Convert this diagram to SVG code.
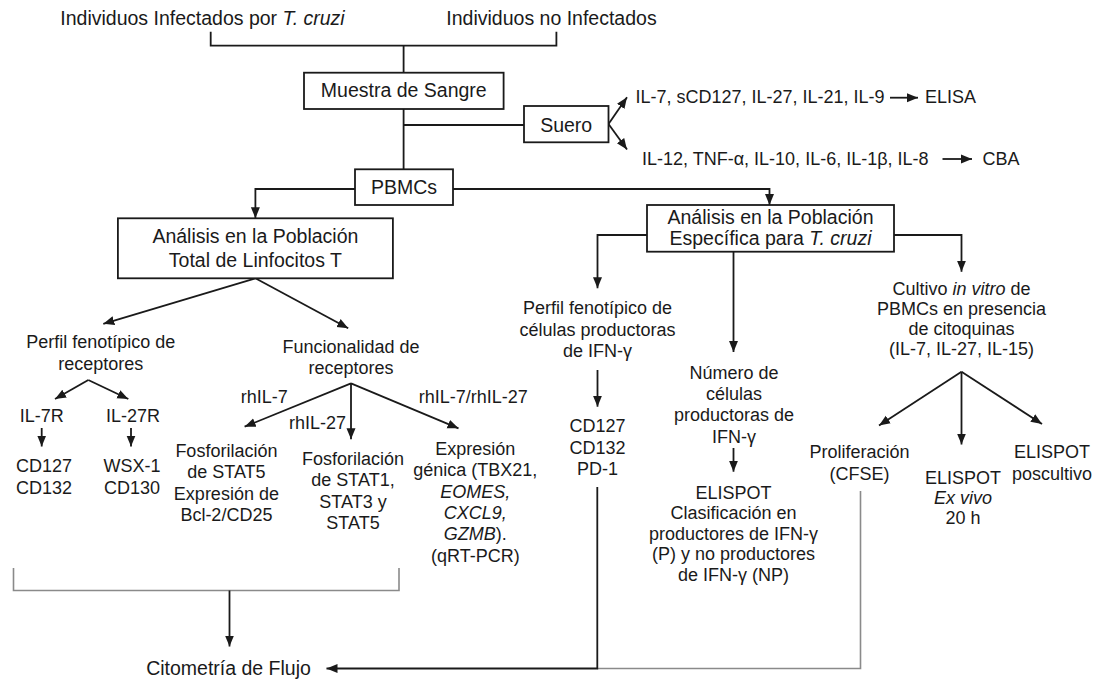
<svg xmlns="http://www.w3.org/2000/svg" width="1106" height="679" viewBox="0 0 1106 679">
<defs>
<style>
text{font-family:"Liberation Sans",Arial,sans-serif;font-size:18px;fill:#1a1a1a;text-anchor:middle}
.lg{font-size:19.5px}
.st{text-anchor:start}
.it{font-style:italic}
.box{fill:#fff;stroke:#1a1a1a;stroke-width:1.8}
.ln{fill:none;stroke:#1a1a1a;stroke-width:1.8}
.gr{fill:none;stroke:#8a8a8a;stroke-width:1.6}
.ar{marker-end:url(#ah)}
</style>
<marker id="ah" markerUnits="userSpaceOnUse" markerWidth="12" markerHeight="12" viewBox="0 0 12 10" refX="11" refY="5" orient="auto">
<path d="M0,0.5 L11,5 L0,9.5 Z" fill="#1a1a1a"/>
</marker>
</defs>
<rect width="1106" height="679" fill="#fff"/>

<g id="connectors">
<path class="ln" d="M210.7,31.7 V45.7 H556.4 V31.7 M403.6,45.7 V72.7"/>
<path class="ln" d="M403.6,109 V169.3 M403.6,125 H524"/>
<path class="ln ar" d="M608.5,124 L627,97.3"/>
<path class="ln ar" d="M608.5,124 L627,149.5"/>
<path class="ln ar" d="M890,97.7 H918"/>
<path class="ln ar" d="M942.5,159 H972"/>
<path class="ln ar" d="M355,189 H255.4 V218.3"/>
<path class="ln ar" d="M453,189 H769.5 V205"/>
<path class="ln ar" d="M255.4,278.3 L103.3,323.8"/>
<path class="ln ar" d="M255.4,278.3 L348.2,328.3"/>
<path class="ln ar" d="M88.3,380 L55,399"/>
<path class="ln ar" d="M88.3,380 L128.3,399"/>
<path class="ln ar" d="M41.7,428 V446.5"/>
<path class="ln ar" d="M131,428 V446.5"/>
<path class="ln ar" d="M351,383.3 L244.6,426.7"/>
<path class="ln ar" d="M351,383.3 V439.3"/>
<path class="ln ar" d="M351,383.3 L458.5,428.3"/>
<path class="ln ar" d="M647,235 H597.5 V288.3"/>
<path class="ln ar" d="M733.5,251.7 V352"/>
<path class="ln ar" d="M894,235 H961.5 V271.7"/>
<path class="ln ar" d="M597.5,370 V406.7"/>
<path class="ln ar" d="M733.5,448 V471.7"/>
<path class="ln ar" d="M961.5,371.7 L879,425.5"/>
<path class="ln ar" d="M961.5,371.7 V444.5"/>
<path class="ln ar" d="M961.5,371.7 L1042,424"/>
<path class="gr" d="M13.5,568 V590.5 H399 V568"/>
<path class="ln ar" d="M229.5,590.5 V646.5"/>
<path class="gr" d="M597.3,668.5 H860.5 V491"/>
<path class="ln ar" d="M597.3,487 V668.5 H326.5"/>
</g>

<g id="top-infected"><text class="lg" x="202.5" y="25">Individuos Infectados por <tspan class="it">T. cruzi</tspan></text></g>
<g id="top-noninfected"><text class="lg" x="551.5" y="25">Individuos no Infectados</text></g>

<g id="muestra"><rect class="box" x="304" y="72.7" width="199.6" height="36.3"/><text class="lg" x="403.8" y="97.3">Muestra de Sangre</text></g>
<g id="suero"><rect class="box" x="524" y="106" width="84.5" height="36.3"/><text class="lg" x="566.2" y="131.7">Suero</text></g>
<g id="elisa"><text class="st" x="635.5" y="103.3">IL-7, sCD127, IL-27, IL-21, IL-9</text><text class="st" x="925" y="103.3">ELISA</text></g>
<g id="cba"><text class="st" x="642" y="165">IL-12, TNF-α, IL-10, IL-6, IL-1β, IL-8</text><text class="st" x="982.5" y="165">CBA</text></g>
<g id="pbmcs"><rect class="box" x="355" y="169.3" width="98" height="35.7"/><text class="lg" x="404" y="194">PBMCs</text></g>

<g id="analisis-total"><rect class="box" x="117.9" y="218.3" width="275" height="60"/><text class="lg" x="255.4" y="243.3">Análisis en la Población</text><text class="lg" x="255.4" y="267.3">Total de Linfocitos T</text></g>
<g id="analisis-especifica"><rect class="box" x="647" y="205" width="247" height="46.7"/><text class="lg" x="770.5" y="224.3">Análisis en la Población</text><text class="lg" x="770.5" y="245">Específica para <tspan class="it">T. cruzi</tspan></text></g>

<g id="perfil-receptores"><text x="100.8" y="348">Perfil fenotípico de</text><text x="100.8" y="370">receptores</text></g>
<g id="il7r"><text x="41.7" y="422">IL-7R</text></g>
<g id="il27r"><text x="133" y="422">IL-27R</text></g>
<g id="cd127-cd132"><text x="44" y="472">CD127</text><text x="44" y="493.5">CD132</text></g>
<g id="wsx1-cd130"><text x="132" y="472">WSX-1</text><text x="132" y="493.5">CD130</text></g>

<g id="funcionalidad"><text x="351" y="353.3">Funcionalidad de</text><text x="351" y="374">receptores</text></g>
<g id="labels-rh"><text x="264.3" y="402.5">rhIL-7</text><text x="317.5" y="429">rhIL-27</text><text x="473.3" y="402.5">rhIL-7/rhIL-27</text></g>
<g id="stat5"><text x="226.4" y="457">Fosforilación</text><text x="226.4" y="478.3">de STAT5</text><text x="226.4" y="499.5">Expresión de</text><text x="226.4" y="520.5">Bcl-2/CD25</text></g>
<g id="stat1"><text x="353" y="464.5">Fosforilación</text><text x="353" y="486">de STAT1,</text><text x="353" y="507.5">STAT3 y</text><text x="353" y="529">STAT5</text></g>
<g id="expresion"><text x="475.3" y="455">Expresión</text><text x="475.3" y="476.3">génica (TBX21,</text><text x="475.3" y="497.6"><tspan class="it">EOMES,</tspan></text><text x="475.3" y="519"><tspan class="it">CXCL9,</tspan></text><text x="475.3" y="540.3"><tspan class="it">GZMB</tspan>).</text><text x="475.3" y="561.6">(qRT-PCR)</text></g>

<g id="perfil-ifn"><text x="597.5" y="314.3">Perfil fenotípico de</text><text x="597.5" y="335.7">células productoras</text><text x="597.5" y="357">de IFN-γ</text></g>
<g id="cd127-pd1"><text x="597.5" y="432.3">CD127</text><text x="597.5" y="453.8">CD132</text><text x="597.5" y="475.2">PD-1</text></g>
<g id="numero"><text x="734" y="379">Número de</text><text x="734" y="400.2">células</text><text x="734" y="421.4">productoras de</text><text x="734" y="442.6">IFN-γ</text></g>
<g id="elispot-clasif"><text x="733.5" y="498.5">ELISPOT</text><text x="733.5" y="519">Clasificación en</text><text x="733.5" y="539.5">productores de IFN-γ</text><text x="733.5" y="560">(P) y no productores</text><text x="733.5" y="580.5">de IFN-γ (NP)</text></g>

<g id="cultivo"><text x="961.5" y="295">Cultivo <tspan class="it">in vitro</tspan> de</text><text x="961.5" y="315">PBMCs en presencia</text><text x="961.5" y="335">de citoquinas</text><text x="961.5" y="355">(IL-7, IL-27, IL-15)</text></g>
<g id="proliferacion"><text x="859.5" y="457.5">Proliferación</text><text x="859.5" y="480">(CFSE)</text></g>
<g id="elispot-exvivo"><text x="963" y="484">ELISPOT</text><text class="it" x="963" y="504">Ex vivo</text><text x="963" y="524">20 h</text></g>
<g id="elispot-poscultivo"><text x="1052" y="457.5">ELISPOT</text><text x="1052" y="480">poscultivo</text></g>

<g id="citometria"><text class="lg" x="228.5" y="675">Citometría de Flujo</text></g>
</svg>
